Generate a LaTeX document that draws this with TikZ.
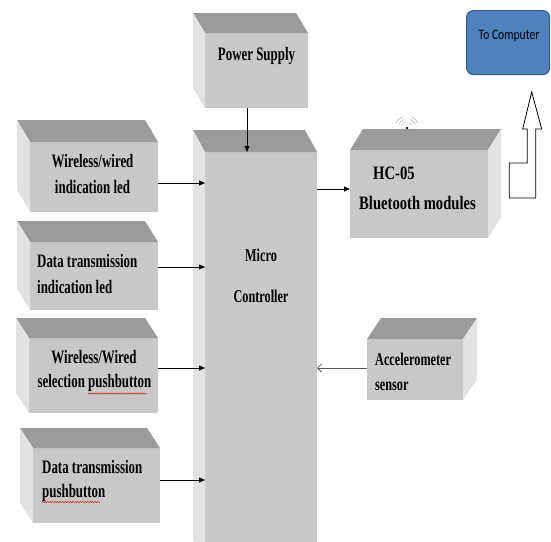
\documentclass[tikz,border=0pt]{standalone}
\usepackage{fontspec}
\newfontfamily\boxfont[FakeStretch=0.68]{Liberation Serif}
\newfontfamily\hcfont[FakeStretch=0.77]{Liberation Serif}
\newfontfamily\pcfont[FakeStretch=0.8]{Carlito}
\usetikzlibrary{arrows.meta,decorations.pathmorphing,calc}

\definecolor{facefront}{RGB}{200,200,200}
\definecolor{facetop}{RGB}{155,155,155}
\definecolor{faceside}{RGB}{226,226,226}
\definecolor{pcblue}{RGB}{79,129,189}
\definecolor{pcedge}{RGB}{56,93,138}

\tikzset{
  front/.style={fill=facefront, inner sep=0pt, outer sep=0pt, anchor=north west},
  lbl/.style={font=\boxfont\bfseries\fontsize{19}{22}\selectfont, inner sep=0pt, anchor=base},
  lblw/.style={lbl, anchor=base west},
  lblsm/.style={font=\boxfont\bfseries\fontsize{18}{21}\selectfont, inner sep=0pt, anchor=base},
  lblsmw/.style={lblsm, anchor=base west},
  lblhc/.style={font=\hcfont\bfseries\fontsize{19}{22}\selectfont, inner sep=0pt, anchor=base west},
  link/.style={-{Triangle[length=6pt,width=5pt]}, line width=0.8pt},
  backlink/.style={-{Straight Barb[length=4pt,width=8pt]}, line width=0.8pt, black!65},
  squiggle/.style={red!80!black, line width=0.4pt, decorate,
    decoration={snake, amplitude=0.7pt, segment length=2.5pt}},
  wave/.style={gray!55, line width=0.6pt},
}

% cube whose depth recedes up and to the left: name, x, y, width, height, dx, dy
\newcommand\leftcube[7]{%
  \node[front, minimum width=#4pt, minimum height=#5pt] (#1) at (#2,#3) {};
  \fill[facetop] (#1.north west) -- ++(-#6,-#7) -- ++(#4,0) -- (#1.north east) -- cycle;
  \fill[faceside] (#1.north west) -- ++(-#6,-#7) -- ++(0,#5) -- (#1.south west) -- cycle;
}
% cube whose depth recedes up and to the right
\newcommand\rightcube[7]{%
  \node[front, minimum width=#4pt, minimum height=#5pt] (#1) at (#2,#3) {};
  \fill[facetop] (#1.north west) -- ++(#6,-#7) -- ++(#4,0) -- (#1.north east) -- cycle;
  \fill[faceside] (#1.north east) -- ++(#6,-#7) -- ++(0,#5) -- (#1.south east) -- cycle;
}

\begin{document}
\begin{tikzpicture}[x=1pt,y=-1pt]
\useasboundingbox (0,0) rectangle (551,541);

% blocks
\leftcube{ps}{205}{33}{103}{75}{12}{20}
\leftcube{mc}{205}{152}{112}{410}{12}{22}
\leftcube{wl}{30}{142}{128}{70}{13}{22}
\leftcube{dl}{30}{242}{128}{68}{13}{21}
\leftcube{ws}{29}{338}{129}{75}{13}{20}
\leftcube{dp}{33}{448}{127}{75}{13}{20}
\rightcube{hc}{350}{150}{138}{88}{13}{21}
\rightcube{ac}{367}{339}{96}{61}{14}{21}

% labels
\node[lbl] (pst) at (256.5,60) {Power Supply};
\node[lbl] (wl1) at (92.5,167) {Wireless/wired};
\node[lbl] (wl2) at (92.5,193) {indication led};
\node[lblw] (dl1) at (37,267) {Data transmission};
\node[lblw] (dl2) at (37,293) {indication led};
\node[lbl] (ws1) at (94,363) {Wireless/Wired};
\node[lbl] (ws2) at (94.5,387) {selection pushbutton};
\node[lblw] (dp1) at (42,473) {Data transmission};
\node[lblw] (dp2) at (42,497) {pushbutton};
\node[lblsm] (mc1) at (261,261.5) {Micro};
\node[lblsm] (mc2) at (261,302) {Controller};
\node[lblhc] (hc1) at (373,179) {HC-05};
\node[lblhc] (hc2) at (359,209) {Bluetooth modules};
\node[lblsmw] (ac1) at (375,365) {Accelerometer};
\node[lblsmw] (ac2) at (375,390) {sensor};

% spelling marks under "pushbutton"
\draw[squiggle] (88,393.5) -- (147,393.5);
\draw[squiggle] (42,502) -- (100,502);

% radio waves over the Bluetooth module
\fill[black] (407,128) circle (1.4);
\foreach \r in {6,9,12} {
  \draw[wave] (407,128) ++(205:\r) arc[start angle=205, end angle=250, radius=\r];
  \draw[wave] (407,128) ++(290:\r) arc[start angle=290, end angle=335, radius=\r];
}

% computer
\node[fill=pcblue, draw=pcedge, line width=1.2pt, rounded corners=7pt,
      minimum width=83pt, minimum height=64pt, anchor=north west] (pc) at (466,10) {};
\node[font=\pcfont\fontsize{14.5}{16}\selectfont, inner sep=0pt, anchor=base] (pct) at (509,39.3) {To Computer};

% hollow up arrow towards the computer
\draw[line width=0.8pt, fill=white]
  (509.3,198) -- (509.3,163) -- (527.3,163) -- (527.3,129) -- (522.7,129)
  -- (531.7,92) -- (541.7,129) -- (535.7,129) -- (535.7,198) -- cycle;

% connections
\draw[link] ([xshift=-9.5pt]ps.south) -- ([xshift=-9.5pt]ps.south |- mc.north);
\draw[link] ([yshift=-6pt]wl.east) -- ([yshift=-6pt]wl.east -| mc.west);
\draw[link] ([yshift=9pt]dl.east) -- ([yshift=9pt]dl.east -| mc.west);
\draw[link] ([yshift=7.5pt]ws.east) -- ([yshift=7.5pt]ws.east -| mc.west);
\draw[link] ([yshift=5.5pt]dp.east) -- ([yshift=5.5pt]dp.east -| mc.west);
\draw[link] ([yshift=5pt]hc.west -| mc.east) -- ([yshift=5pt]hc.west);
\draw[backlink] ([yshift=1.5pt]ac.west) -- ([yshift=1.5pt]ac.west -| mc.east);
\end{tikzpicture}
\end{document}
